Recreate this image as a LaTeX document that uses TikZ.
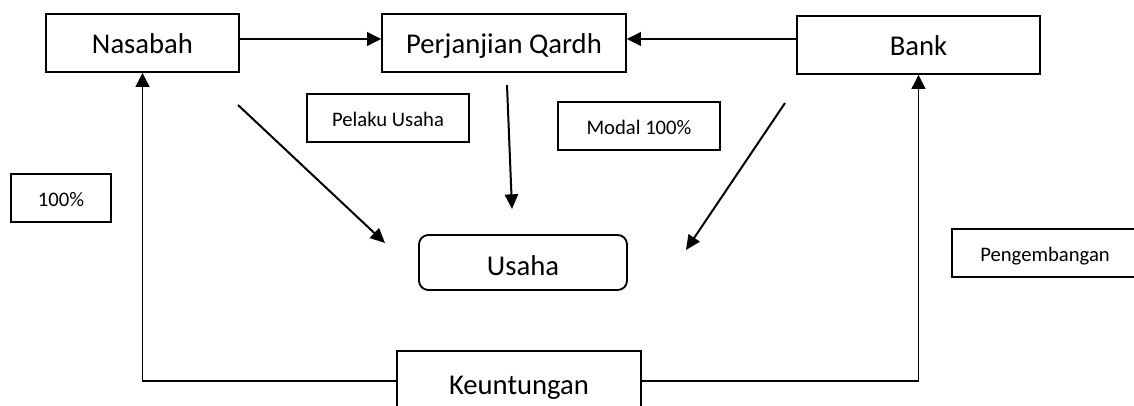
\documentclass[tikz,border=0pt]{standalone}
\usepackage{fontspec}
\setmainfont{Carlito}
\usetikzlibrary{arrows.meta,calc}
\begin{document}
\begin{tikzpicture}[x=0.75pt,y=-0.75pt,
  bigbox/.style={draw,line width=1.4pt,minimum height=43.5pt,inner sep=0pt,text height=16.5pt,text depth=0pt,font=\fontsize{21.5}{25}\selectfont},
  smallbox/.style={draw,line width=1.4pt,minimum height=36pt,inner sep=0pt,text height=12.8pt,text depth=0pt,font=\fontsize{15.5}{18}\selectfont},
  conn/.style={line width=0.8pt,-{Triangle[length=10.5pt,width=10.5pt]}},
  diag/.style={line width=1.5pt,-{Triangle[length=11pt,width=10pt]}}]
\clip (0,0) rectangle (1134,406);
\fill[white] (0,0) rectangle (1134,406);
% main boxes
\node[bigbox,minimum width=144.75pt] (nas) at (142.5,43) {Nasabah};
\node[bigbox,minimum width=183pt] (per) at (504,43) {Perjanjian Qardh};
\node[bigbox,minimum width=182.25pt] (bank) at (918.5,45) {Bank};
\node[bigbox,minimum width=156pt,minimum height=41.25pt,rounded corners=7pt,text height=20.2pt] (usaha) at (523,262.5) {Usaha};
\node[bigbox,minimum width=183pt,minimum height=48pt] (keu) at (519,383) {Keuntungan};
% label boxes
\node[smallbox,minimum width=121.5pt] (pelaku) at (388,118) {Pelaku Usaha};
\node[smallbox,minimum width=121.5pt] (modal) at (639,126) {Modal 100\%};
\node[smallbox,minimum width=75pt] (seratus) at (61,198) {100\%};
\node[smallbox,minimum width=139.5pt] (pengembangan) at (1045,253) {Pengembangan};
% top connectors
\draw[conn] ($(nas.east)+(0,-4)$) -- ($(per.west)+(0,-4)$);
\draw[conn] ($(bank.west)+(0,-6)$) -- ($(per.east)+(0,-4)$);
% bottom connectors
\draw[conn] ($(keu.west)+(0,-2)$) -| (nas.south);
\draw[conn] ($(keu.east)+(0,-2)$) -| (bank.south);
% diagonal arrows
\coordinate (d1s) at (238,105);
\coordinate (d1e) at (385,243);
\coordinate (d2s) at (507,85);
\coordinate (d2e) at (512,209);
\coordinate (d3s) at (785,103);
\coordinate (d3e) at (686,250);
\draw[diag] (d1s) -- (d1e);
\draw[diag] (d2s) -- (d2e);
\draw[diag] (d3s) -- (d3e);
\end{tikzpicture}
\end{document}
